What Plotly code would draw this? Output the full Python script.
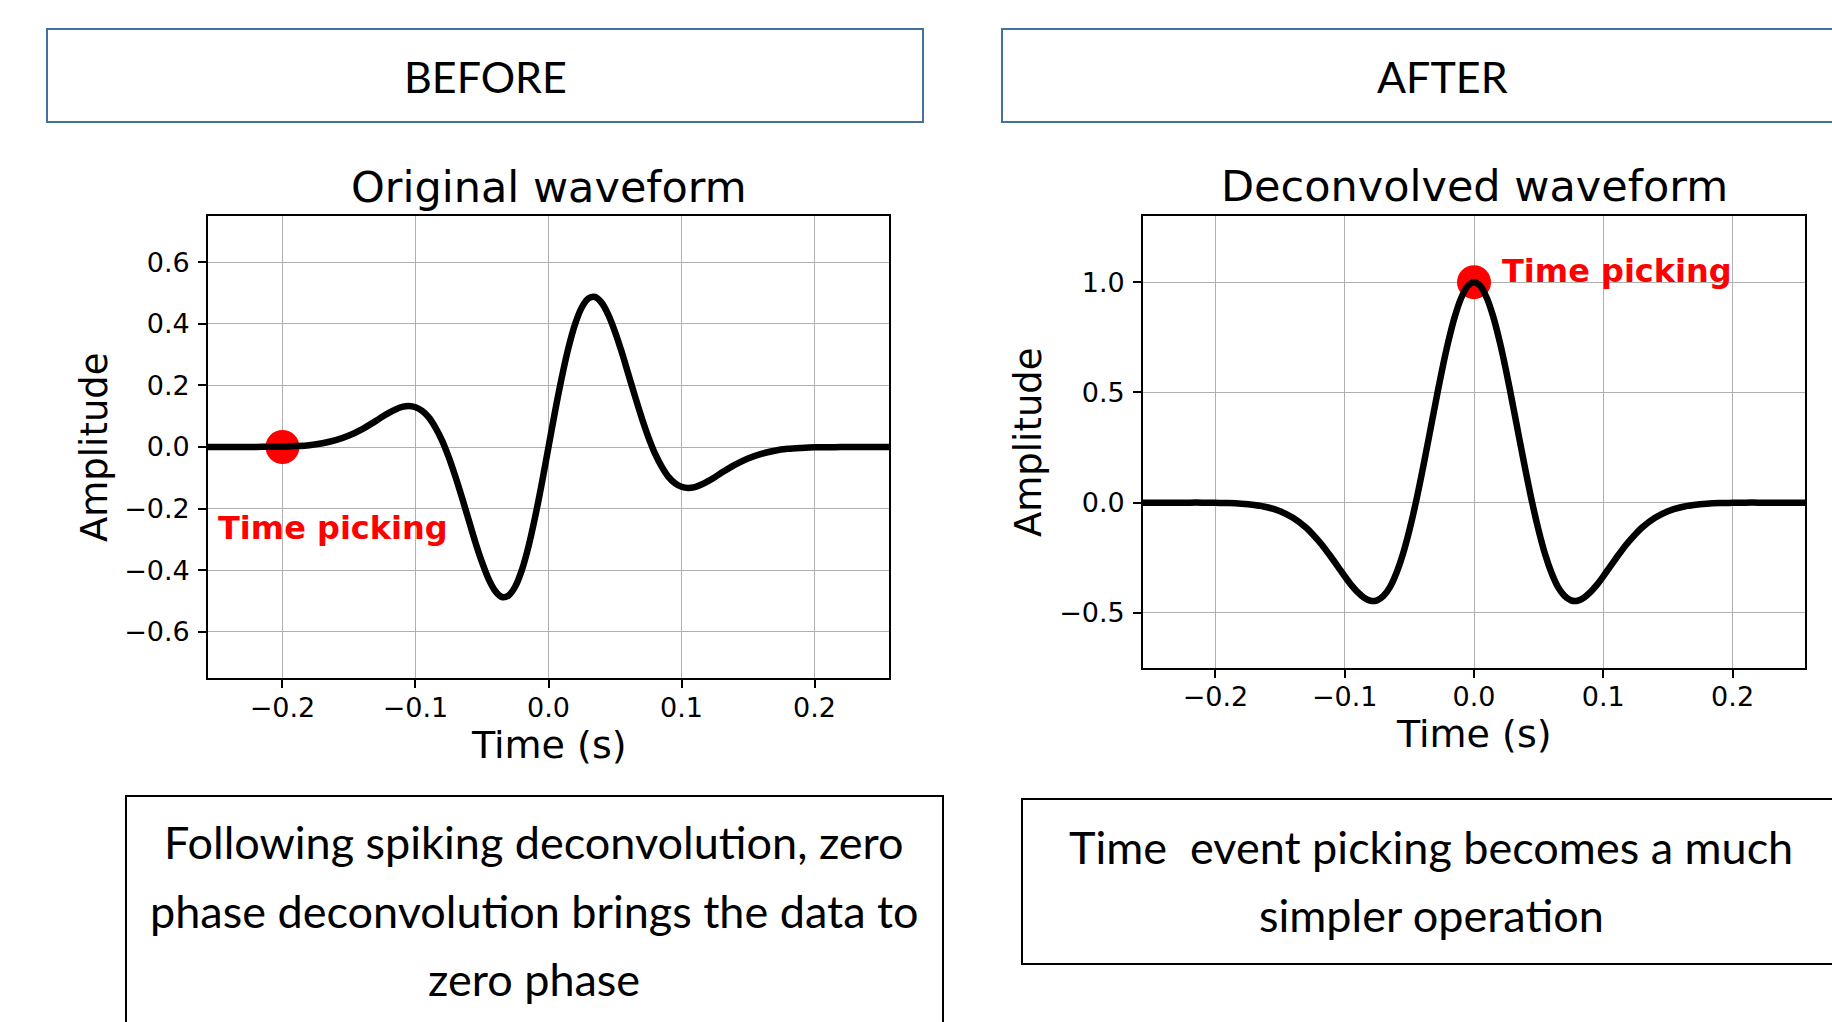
import plotly.graph_objects as go

W, H = 1832, 1022

# ---- data -------------------------------------------------------------
time_s = [
    -0.256, -0.25, -0.24, -0.23, -0.22, -0.21, -0.20, -0.19, -0.18, -0.17,
    -0.16, -0.15, -0.14, -0.13, -0.125, -0.12, -0.115, -0.11, -0.105, -0.10,
    -0.095, -0.09, -0.085, -0.08, -0.075, -0.07, -0.065, -0.06, -0.055, -0.05,
    -0.045, -0.04, -0.035, -0.03, -0.025, -0.02, -0.015, -0.01, -0.005, 0.0,
    0.005, 0.01, 0.015, 0.02, 0.025, 0.03, 0.035, 0.04, 0.045, 0.05,
    0.055, 0.06, 0.065, 0.07, 0.075, 0.08, 0.085, 0.09, 0.095, 0.10,
    0.105, 0.11, 0.115, 0.12, 0.125, 0.13, 0.14, 0.15, 0.16, 0.17,
    0.18, 0.19, 0.20, 0.21, 0.22, 0.23, 0.24, 0.25, 0.256,
]

original_amp = [
    0.0, 0.0, 0.0, 0.0, 0.0, 0.001, 0.001, 0.003, 0.006, 0.012,
    0.022, 0.037, 0.058, 0.084, 0.098, 0.111, 0.122, 0.130, 0.133, 0.129,
    0.117, 0.096, 0.063, 0.021, -0.033, -0.096, -0.165, -0.237, -0.309, -0.374,
    -0.429, -0.468, -0.487, -0.482, -0.453, -0.399, -0.322, -0.226, -0.117, 0.0,
    0.117, 0.226, 0.322, 0.399, 0.453, 0.482, 0.487, 0.468, 0.429, 0.374,
    0.309, 0.237, 0.165, 0.096, 0.033, -0.021, -0.063, -0.096, -0.117, -0.129,
    -0.133, -0.130, -0.122, -0.111, -0.098, -0.084, -0.058, -0.037, -0.022, -0.012,
    -0.006, -0.003, -0.001, -0.001, 0.0, 0.0, 0.0, 0.0, 0.0,
]

deconvolved_amp = [
    0.0, 0.0, 0.0, 0.0, 0.0, 0.0, -0.001, -0.002, -0.005, -0.011,
    -0.021, -0.039, -0.069, -0.113, -0.142, -0.175, -0.211, -0.251, -0.292, -0.334,
    -0.373, -0.406, -0.431, -0.445, -0.443, -0.423, -0.383, -0.319, -0.234, -0.126,
    0.000, 0.142, 0.292, 0.445, 0.593, 0.727, 0.841, 0.927, 0.982, 1.0,
    0.982, 0.927, 0.841, 0.727, 0.593, 0.445, 0.292, 0.142, 0.000, -0.126,
    -0.234, -0.319, -0.383, -0.423, -0.443, -0.445, -0.431, -0.406, -0.373, -0.334,
    -0.292, -0.251, -0.211, -0.175, -0.142, -0.113, -0.069, -0.039, -0.021, -0.011,
    -0.005, -0.002, -0.001, 0.0, 0.0, 0.0, 0.0, 0.0, 0.0,
]

pick_original_t = [-0.2]
pick_original_a = [0.0]
pick_deconvolved_t = [0.0]
pick_deconvolved_a = [1.0]

x_tick_vals = [-0.2, -0.1, 0.0, 0.1, 0.2]
x_tick_text = ["\u22120.2", "\u22120.1", "0.0", "0.1", "0.2"]
y1_tick_vals = [-0.6, -0.4, -0.2, 0.0, 0.2, 0.4, 0.6]
y1_tick_text = ["\u22120.6", "\u22120.4", "\u22120.2", "0.0", "0.2", "0.4", "0.6"]
y2_tick_vals = [-0.5, 0.0, 0.5, 1.0]
y2_tick_text = ["\u22120.5", "0.0", "0.5", "1.0"]

PLOT_FONT = "DejaVu Sans"
SLIDE_FONT = "Lato, sans-serif"


def px(x):
    return x / W


def py(y):
    return 1 - y / H


fig = go.Figure()

# pick markers sit underneath the waveform
fig.add_trace(go.Scatter(x=pick_original_t, y=pick_original_a, mode="markers",
                         marker=dict(color="#ff0000", size=34, line=dict(width=0)),
                         xaxis="x", yaxis="y", showlegend=False, hoverinfo="skip"))
fig.add_trace(go.Scatter(x=time_s, y=original_amp, mode="lines",
                         line=dict(color="black", width=6.5, shape="spline", smoothing=0.8),
                         xaxis="x", yaxis="y", showlegend=False))
fig.add_trace(go.Scatter(x=pick_deconvolved_t, y=pick_deconvolved_a, mode="markers",
                         marker=dict(color="#ff0000", size=34, line=dict(width=0)),
                         xaxis="x2", yaxis="y2", showlegend=False, hoverinfo="skip"))
fig.add_trace(go.Scatter(x=time_s, y=deconvolved_amp, mode="lines",
                         line=dict(color="black", width=6.5, shape="spline", smoothing=0.8),
                         xaxis="x2", yaxis="y2", showlegend=False))

axis_common = dict(
    showgrid=True, gridcolor="#b0b0b0", gridwidth=1.3,
    showline=True, mirror=True, linecolor="black", linewidth=1.7,
    ticks="outside", ticklen=8, tickwidth=1.5, tickcolor="black",
    zeroline=False, tickfont=dict(family=PLOT_FONT, size=27, color="black"),
    tickmode="array",
)

fig.update_layout(
    width=W, height=H, autosize=False,
    margin=dict(l=0, r=0, t=0, b=0),
    paper_bgcolor="white", plot_bgcolor="white",
    showlegend=False,
    xaxis=dict(domain=[px(208), px(889)], range=[-0.256, 0.256], anchor="y",
               tickvals=x_tick_vals, ticktext=x_tick_text,
               ticklabelstandoff=-3, **axis_common),
    yaxis=dict(domain=[py(678), py(216)], range=[-0.75, 0.75], anchor="x",
               tickvals=y1_tick_vals, ticktext=y1_tick_text,
               ticklabelstandoff=3, **axis_common),
    xaxis2=dict(domain=[px(1143), px(1805)], range=[-0.256, 0.256], anchor="y2",
                tickvals=x_tick_vals, ticktext=x_tick_text,
                ticklabelstandoff=-4, **axis_common),
    yaxis2=dict(domain=[py(668), py(216)], range=[-0.75, 1.3], anchor="x2",
                tickvals=y2_tick_vals, ticktext=y2_tick_text,
                ticklabelstandoff=3, **axis_common),
)

annotations = []


def note(text, x, y, size, family, color="black", angle=0, xanchor="center",
         yanchor="middle", xref="paper", yref="paper"):
    annotations.append(dict(text=text, x=x, y=y, xref=xref, yref=yref,
                            showarrow=False, textangle=angle,
                            xanchor=xanchor, yanchor=yanchor,
                            font=dict(family=family, size=size, color=color)))


# subplot titles and axis titles
note("Original waveform", px(548.5), py(187), 43, PLOT_FONT)
note("Deconvolved waveform", px(1474), py(186), 43, PLOT_FONT)
note("Time (s)", px(548.5), py(745), 38, PLOT_FONT)
note("Time (s)", px(1474), py(734), 38, PLOT_FONT)
note("Amplitude", px(94), py(447), 37, PLOT_FONT, angle=-90)
note("Amplitude", px(1029), py(442), 37, PLOT_FONT, angle=-90)

# pick labels
note("<b>Time picking</b>", -0.25, -0.2625, 32, PLOT_FONT, color="#ff0000",
     xanchor="left", xref="x", yref="y")
note("<b>Time picking</b>", 0.02, 1.052, 32, PLOT_FONT, color="#ff0000",
     xanchor="left", xref="x2", yref="y2")

# slide headers
note("BEFORE", px(485), py(77), 43, SLIDE_FONT)
note("AFTER", px(1442), py(77), 43, SLIDE_FONT)

# slide captions
note("Following spiking deconvolution, zero", px(534), py(842), 45, SLIDE_FONT)
note("phase deconvolution brings the data to", px(534), py(911), 45, SLIDE_FONT)
note("zero phase", px(534), py(979), 45, SLIDE_FONT)
note("Time\u00a0 event picking becomes a much", px(1431), py(847), 45, SLIDE_FONT)
note("simpler operation", px(1431), py(915), 45, SLIDE_FONT)

fig.update_layout(annotations=annotations)

# header and caption frames
shapes = [
    dict(type="rect", xref="paper", yref="paper", x0=px(47), x1=px(923),
         y0=py(122), y1=py(29), line=dict(color="#41719C", width=2)),
    dict(type="rect", xref="paper", yref="paper", x0=px(1002), x1=px(1850),
         y0=py(122), y1=py(29), line=dict(color="#41719C", width=2)),
    dict(type="rect", xref="paper", yref="paper", x0=px(126), x1=px(943),
         y0=py(1040), y1=py(796), line=dict(color="black", width=2)),
    dict(type="rect", xref="paper", yref="paper", x0=px(1022), x1=px(1850),
         y0=py(964), y1=py(799), line=dict(color="black", width=2)),
]
fig.update_layout(shapes=shapes)

fig.write_html("out.html")
